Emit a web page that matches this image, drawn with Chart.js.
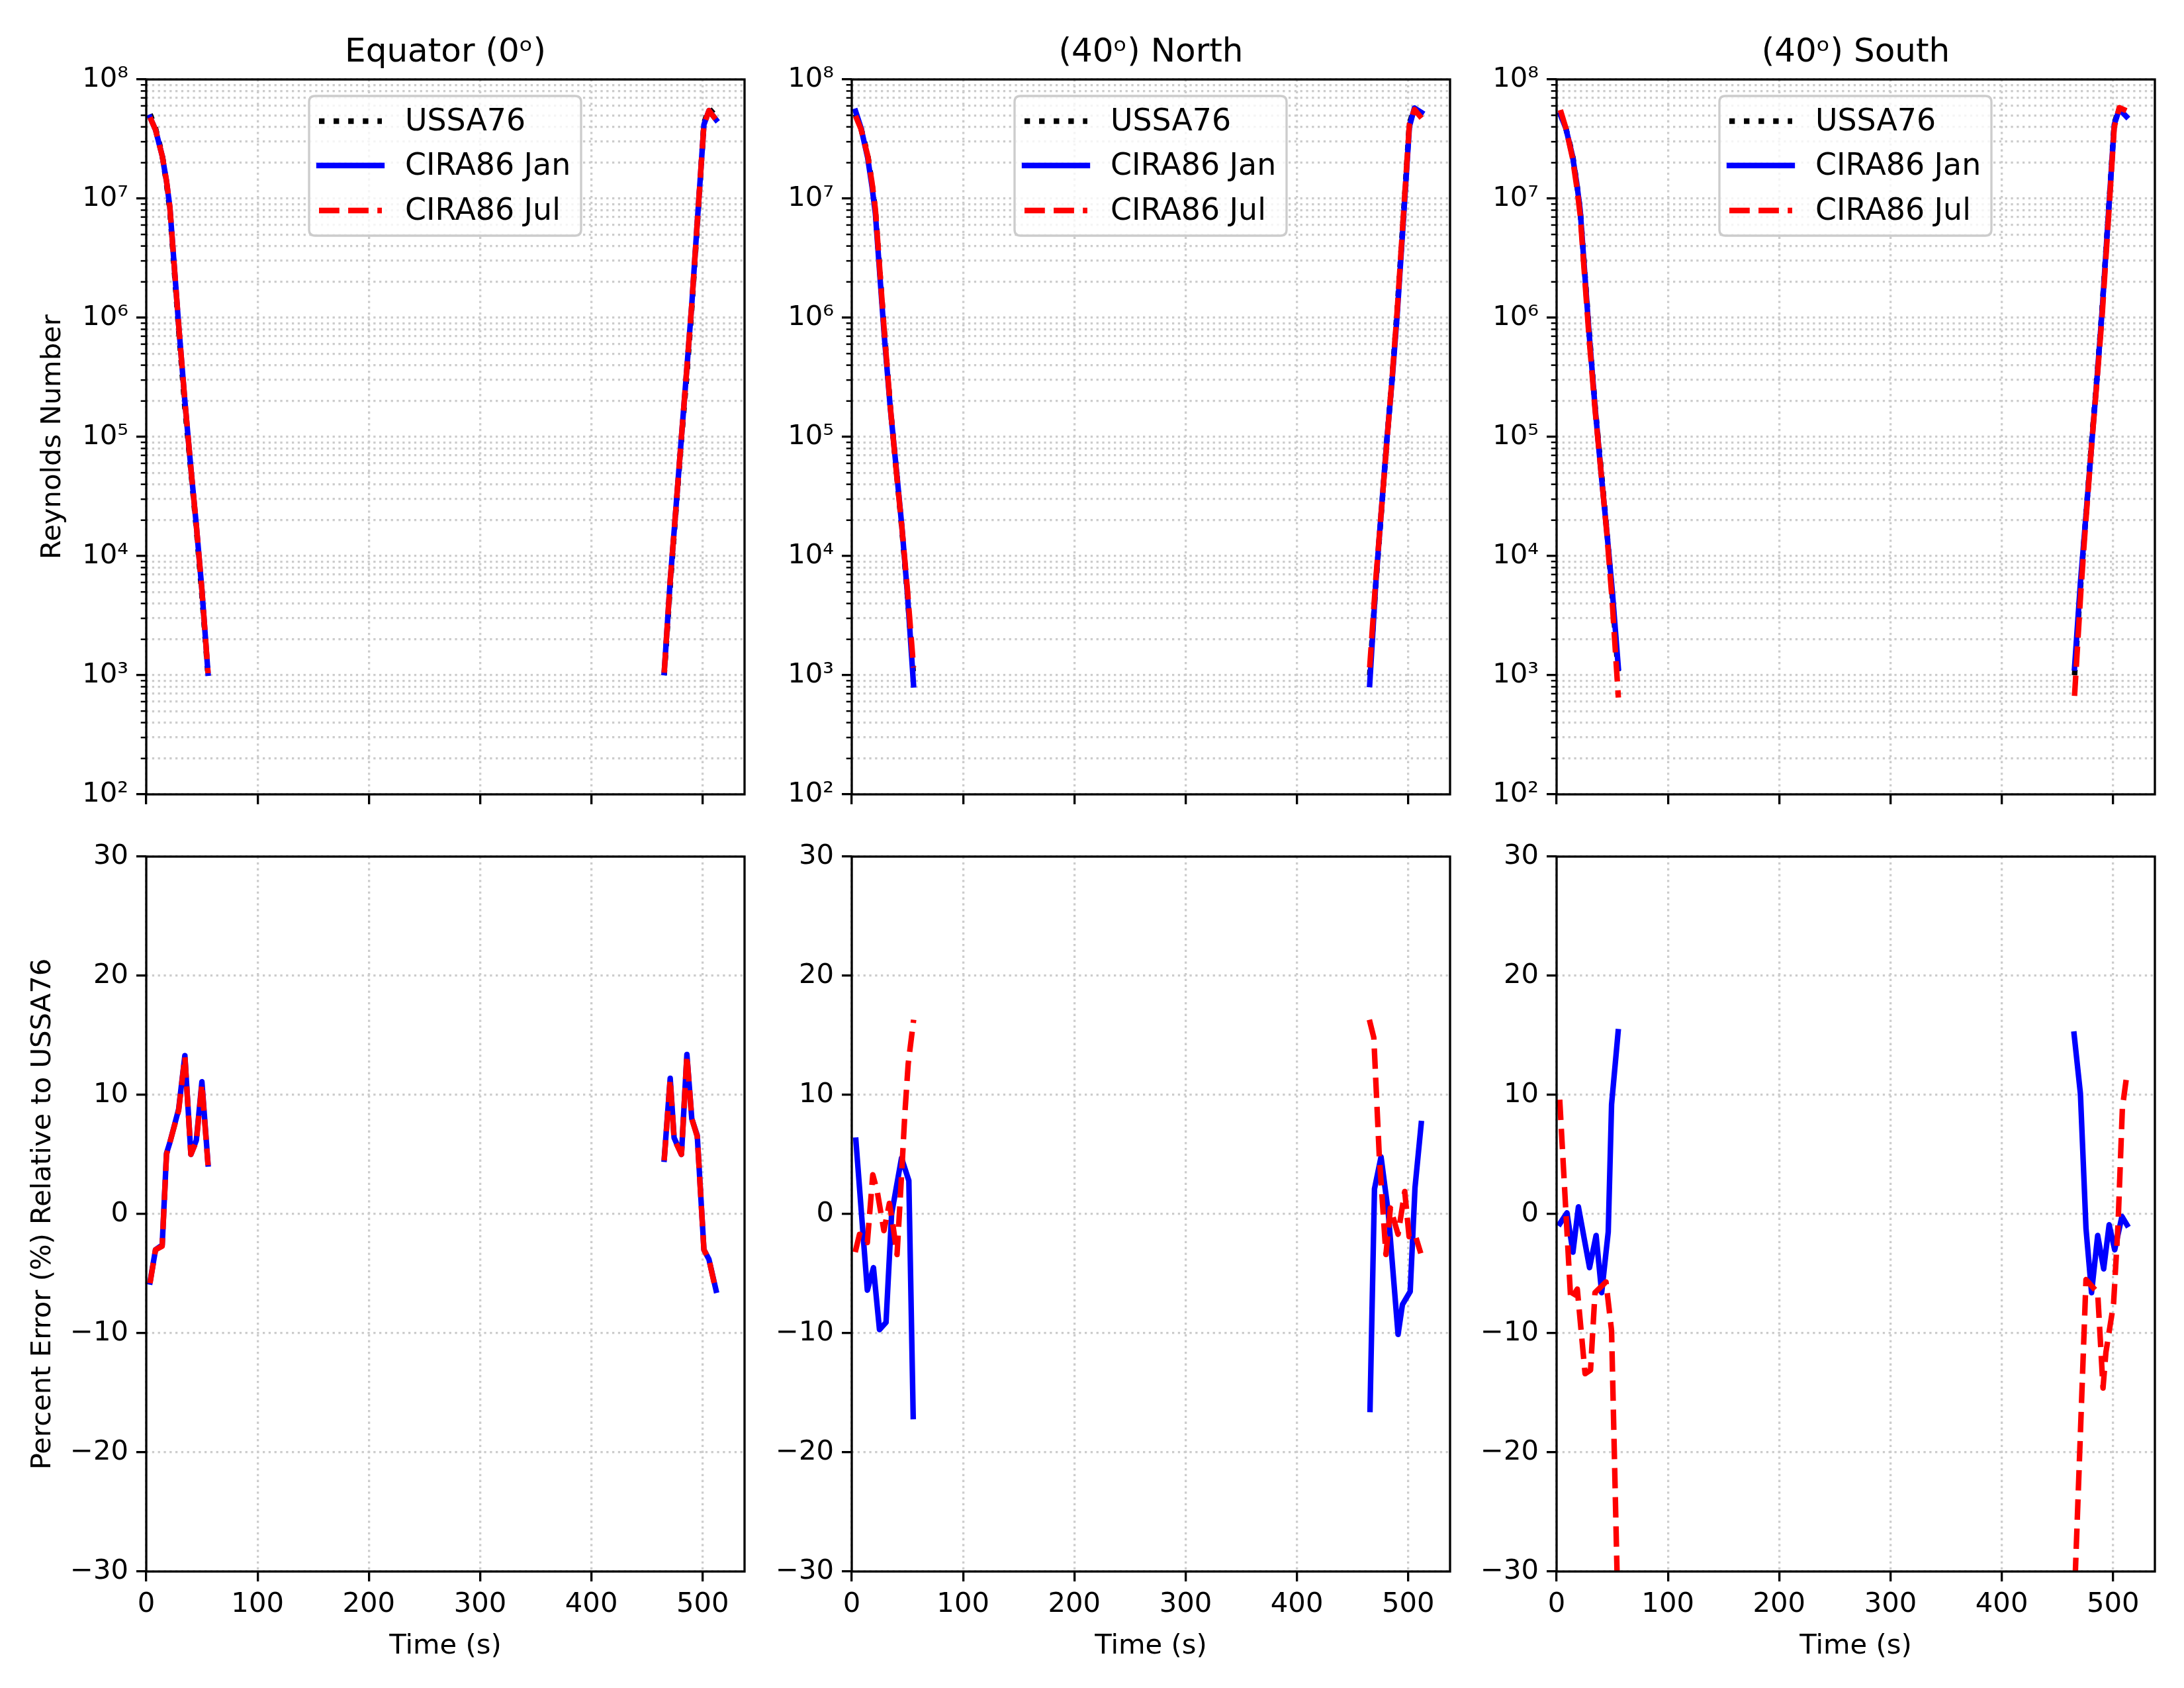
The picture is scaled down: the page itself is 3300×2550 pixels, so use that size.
<!DOCTYPE html>
<html><head><meta charset="utf-8">
<script src="https://cdn.jsdelivr.net/npm/chart.js@4.4.1/dist/chart.umd.min.js"></script>
<style>
html,body{margin:0;padding:0;background:#fff;}
body{width:3300px;height:2550px;position:relative;overflow:hidden;}
canvas{position:absolute;}
</style></head><body>
<script>
// ---------------- DATA ----------------
const panelTitles = ['Equator (0\u1D52)', '(40\u1D52) North', '(40\u1D52) South'];
const seriesNames = ['USSA76', 'CIRA86 Jan', 'CIRA86 Jul'];
const timeTicks = [0, 100, 200, 300, 400, 500];
const errTicks = [-30, -20, -10, 0, 10, 20, 30];
const reDecades = [1e2, 1e3, 1e4, 1e5, 1e6, 1e7, 1e8];
const reDecadeLabels = ['10\u00B2', '10\u00B3', '10\u2074', '10\u2075', '10\u2076', '10\u2077', '10\u2078'];

// Reynolds number (top row), time in s; null = gap between ascent and entry
const reTime = [3.4, 8.3, 14.3, 18.2, 21.2, 29.1, 34.7, 40.1, 45, 50, 55.5, null,
                465.4, 470.8, 474.3, 480.9, 485.8, 490.2, 495.1, 501.1, 505.6, 512];
const ussa76Re = [5.1e7, 3.9e7, 2.35e7, 1.33e7, 8.0e6, 8.0e5, 1.76e5, 5.2e4, 1.7e4, 4.7e3, 1.0e3, null,
                  1.0e3, 5.6e3, 1.5e4, 9.5e4, 3.35e5, 1.2e6, 5.9e6, 4.3e7, 5.7e7, 4.9e7];
const eqJanRe = [4.81e7, 3.78e7, 2.29e7, 1.40e7, 8.5e6, 8.7e5, 1.99e5, 5.46e4, 1.81e4, 5.2e3, 1.04e3, null,
                 1.05e3, 6.2e3, 1.6e4, 9.98e4, 3.8e5, 1.3e6, 6.3e6, 4.17e7, 5.48e7, 4.59e7];
const eqJulRe = [4.80e7, 3.78e7, 2.29e7, 1.40e7, 8.48e6, 8.7e5, 1.99e5, 5.46e4, 1.80e4, 5.2e3, 1.04e3, null,
                 1.05e3, 6.2e3, 1.6e4, 9.97e4, 3.8e5, 1.3e6, 6.28e6, 4.17e7, 5.48e7, 4.59e7];
const northJanRe = [5.42e7, 3.92e7, 2.2e7, 1.26e7, 7.5e6, 7.26e5, 1.72e5, 5.32e4, 1.78e4, 4.85e3, 8.3e2, null,
                    8.36e2, 5.75e3, 1.56e4, 9.6e4, 3.21e5, 1.09e6, 5.47e6, 4.02e7, 5.76e7, 5.27e7];
const northJulRe = [4.94e7, 3.83e7, 2.3e7, 1.36e7, 8.2e6, 7.9e5, 1.77e5, 5.04e4, 1.76e4, 5.25e3, 1.16e3, null,
                    1.16e3, 6.24e3, 1.57e4, 9.26e4, 3.35e5, 1.18e6, 5.95e6, 4.22e7, 5.6e7, 4.74e7];
const southJanRe = [5.07e7, 3.9e7, 2.28e7, 1.33e7, 7.98e6, 7.66e5, 1.72e5, 4.87e4, 1.65e4, 5.16e3, 1.15e3, null,
                    1.15e3, 6.16e3, 1.53e4, 8.88e4, 3.28e5, 1.15e6, 5.78e6, 4.18e7, 5.63e7, 4.88e7];
const southJulRe = [5.54e7, 3.91e7, 2.19e7, 1.24e7, 7.26e6, 6.94e5, 1.64e5, 4.88e4, 1.6e4, 4.12e3, 6.5e2, null,
                    6.7e2, 4.59e3, 1.37e4, 8.92e4, 3.13e5, 1.04e6, 5.28e6, 3.99e7, 5.8e7, 5.46e7];

// Percent error relative to USSA76 (bottom row)
const eqErrTime = [3.4, 8.3, 14.3, 18.2, 21.2, 29.1, 34.7, 40.1, 45, 50, 55.5, null,
                   465.4, 470.8, 474.3, 480.9, 485.8, 490.2, 495.1, 501.1, 505.6, 512];
const eqJanErr = [-5.7, -3.0, -2.6, 5.1, 6.0, 8.8, 13.3, 5.0, 6.2, 11.1, 4.2, null,
                  4.6, 11.4, 6.4, 5.0, 13.4, 8.0, 6.6, -3.0, -3.8, -6.4];
const eqJulErr = [-5.8, -3.0, -2.7, 5.0, 6.0, 8.7, 13.2, 5.0, 6.1, 10.9, 4.1, null,
                  4.5, 11.3, 6.3, 5.0, 13.3, 8.0, 6.5, -3.0, -3.8, -6.5];

const northJanTime = [3.7, 14.0, 19.5, 24.9, 30.8, 35.8, 44.7, 51.3, 55.2, null,
                      465.7, 469.7, 475.6, 482.0, 490.9, 494.8, 501.8, 506.1, 511.7];
const northJanErr = [6.2, -6.4, -4.5, -9.7, -9.1, 0.0, 4.7, 2.8, -17.0, null,
                     -16.4, 2.1, 4.8, 0.2, -10.1, -7.6, -6.5, 2.2, 7.6];
const northJulTime = [3.1, 7.0, 14.0, 18.9, 22.9, 28.9, 33.8, 36.8, 40.7, 44.7, 47.7, 50.7, 55.6, null,
                      465.1, 469.1, 474.0, 480.0, 484.0, 490.9, 496.9, 500.8, 506.1, 511.3];
const northJulErr = [-3.2, -1.7, -2.4, 3.3, 1.9, -1.4, 0.9, -0.8, -3.4, 3.2, 8.4, 12.6, 16.3, null,
                     16.3, 14.8, 4.9, -3.4, 0.5, -1.7, 1.9, -1.9, -1.7, -3.3];

const southJanTime = [3.0, 9.3, 14.7, 19.6, 29.6, 35.5, 40.5, 46.4, 49.4, 55.3, null,
                      465.0, 470.7, 475.7, 480.7, 486.2, 491.6, 496.5, 501.5, 508.0, 512.5];
const southJanErr = [-0.8, 0.1, -3.2, 0.6, -4.5, -1.8, -6.6, -1.5, 9.2, 15.3, null,
                     15.1, 10.1, -1.2, -6.6, -1.8, -4.6, -0.9, -3.0, -0.2, -0.9];
const southJulTime = [2.8, 12.7, 18.6, 25.6, 30.5, 34.5, 44.4, 49.4, 55.5, null,
                      465.0, 475.7, 486.2, 491.0, 493.6, 500.5, 504.5, 508.4, 512.4];
const southJulErr = [9.6, -7.2, -6.3, -13.4, -13.1, -6.6, -5.7, -9.8, -35.0, null,
                     -33.0, -5.5, -6.6, -14.6, -11.6, -7.5, -0.9, 8.9, 11.7];

// ---------------- LAYOUT / STYLE ----------------
const FONT = "'DejaVu Sans'";
Chart.defaults.font.family = FONT;
Chart.defaults.color = '#000';
const colLeft = [221, 1287, 2352];
const rowTop = [120, 1294];
const plotW = 904, plotH = 1080;
const padL = 221, padT = 120, padR = 24, padB = 176;
const LW = 8.33;
const GRID = '#cccccc';

function pts(times, vals) {
  return times.map((t, i) => t === null
    ? {x: (times[i - 1] + times[i + 1]) / 2, y: null}
    : {x: t, y: vals[i]});
}
const styleUSSA = {borderColor: '#000000', borderDash: [8.33, 13.75], borderCapStyle: 'butt'};
const styleJan = {borderColor: '#0000ff', borderDash: [], borderCapStyle: 'square'};
const styleJul = {borderColor: '#ff0000', borderDash: [30.8, 13.3], borderCapStyle: 'butt'};
function ds(label, data, style, order) {
  return Object.assign({label, data, order, borderWidth: LW, pointRadius: 0, pointHoverRadius: 0,
    fill: false, tension: 0, borderJoinStyle: 'round', clip: 0, spanGaps: false}, style);
}

const isDecade = v => reDecades.some(d => Math.abs(v / d - 1) < 1e-9);
const reAllTicks = [];
reDecades.forEach((d, i) => {
  if (i < reDecades.length - 1) { for (let m = 1; m <= 9; m++) reAllTicks.push(m * d); }
  else reAllTicks.push(d);
});

const panelPlugin = {
  id: 'panelDeco',
  afterDatasetsDraw(chart, args, opts) {
    const {ctx, chartArea: a} = chart;
    ctx.save();
    const ys = chart.scales.y;
    if (ys.type === 'logarithmic') {
      ctx.strokeStyle = '#000'; ctx.lineWidth = 2.5; ctx.setLineDash([]);
      ys.ticks.forEach(t => {
        if (isDecade(t.value)) return;
        const p = ys.getPixelForValue(t.value);
        ctx.beginPath(); ctx.moveTo(a.left, p); ctx.lineTo(a.left - 8.3, p); ctx.stroke();
      });
    }
    ctx.lineWidth = 3.33; ctx.strokeStyle = '#000'; ctx.setLineDash([]);
    ctx.strokeRect(a.left, a.top, a.right - a.left, a.bottom - a.top);
    if (opts.legend) {
      const x = a.left + 246, y = a.top + 25, w = 411, h = 211, r = 9;
      ctx.beginPath();
      ctx.moveTo(x + r, y); ctx.lineTo(x + w - r, y); ctx.quadraticCurveTo(x + w, y, x + w, y + r);
      ctx.lineTo(x + w, y + h - r); ctx.quadraticCurveTo(x + w, y + h, x + w - r, y + h);
      ctx.lineTo(x + r, y + h); ctx.quadraticCurveTo(x, y + h, x, y + h - r);
      ctx.lineTo(x, y + r); ctx.quadraticCurveTo(x, y, x + r, y); ctx.closePath();
      ctx.fillStyle = 'rgba(255,255,255,0.8)'; ctx.fill();
      ctx.strokeStyle = '#cccccc'; ctx.lineWidth = 3.33; ctx.stroke();
      const rowsY = [38, 105, 173];
      chart.data.datasets.forEach((d, i) => {
        const yy = y + rowsY[i];
        ctx.beginPath();
        ctx.strokeStyle = d.borderColor; ctx.lineWidth = LW; ctx.lineCap = d.borderCapStyle;
        ctx.setLineDash(d.borderDash || []);
        ctx.moveTo(x + 15, yy); ctx.lineTo(x + 110, yy); ctx.stroke();
        ctx.setLineDash([]);
        ctx.fillStyle = '#000'; ctx.font = '45.8px ' + FONT;
        ctx.textBaseline = 'middle'; ctx.textAlign = 'left';
        ctx.fillText(d.label, x + 145, yy + 2);
      });
    }
    ctx.restore();
  }
};

function makePanel(row, col) {
  const cv = document.createElement('canvas');
  const W = padL + plotW + padR, H = padT + plotH + padB;
  cv.width = W; cv.height = H;
  cv.style.left = (colLeft[col] - padL) + 'px';
  cv.style.top = (rowTop[row] - padT) + 'px';
  cv.style.width = W + 'px'; cv.style.height = H + 'px';
  document.body.appendChild(cv);

  let datasets;
  if (row === 0) {
    const jan = [eqJanRe, northJanRe, southJanRe][col];
    const jul = [eqJulRe, northJulRe, southJulRe][col];
    datasets = [
      ds(seriesNames[0], pts(reTime, ussa76Re), styleUSSA, 3),
      ds(seriesNames[1], pts(reTime, jan), styleJan, 2),
      ds(seriesNames[2], pts(reTime, jul), styleJul, 1)
    ];
  } else {
    const janT = [eqErrTime, northJanTime, southJanTime][col];
    const janV = [eqJanErr, northJanErr, southJanErr][col];
    const julT = [eqErrTime, northJulTime, southJulTime][col];
    const julV = [eqJulErr, northJulErr, southJulErr][col];
    datasets = [
      ds(seriesNames[1], pts(janT, janV), styleJan, 2),
      ds(seriesNames[2], pts(julT, julV), styleJul, 1)
    ];
  }

  const tickFont = {family: FONT, size: 41.7};
  const xScale = {
    type: 'linear', min: 0, max: 537.6,
    afterFit: s => { s.height = padB; },
    afterBuildTicks: s => { s.ticks = timeTicks.map(v => ({value: v})); },
    ticks: {display: row === 1, font: tickFont, color: '#000', padding: 10, maxRotation: 0, autoSkip: false},
    grid: {color: GRID, lineWidth: 3.3, tickLength: 15, tickColor: '#000', tickWidth: 3.33},
    border: {display: false, dash: [3.3, 5.5]},
    title: row === 1 ? {display: true, text: 'Time (s)', font: tickFont, color: '#000', padding: {top: 0, bottom: 38}} : {display: false}
  };
  let yScale;
  if (row === 0) {
    yScale = {
      type: 'logarithmic', min: 1e2, max: 1e8,
      afterFit: s => { s.width = padL; },
      afterBuildTicks: s => { s.ticks = reAllTicks.map(v => ({value: v, major: isDecade(v)})); },
      ticks: {font: tickFont, color: '#000', padding: 12, autoSkip: false,
        callback: v => { const k = reDecades.findIndex(d => Math.abs(v / d - 1) < 1e-9); return k >= 0 ? reDecadeLabels[k] : ''; }},
      grid: {color: GRID, lineWidth: 3.3, tickLength: 15, tickColor: '#000',
        tickWidth: c => (c.tick && isDecade(c.tick.value)) ? 3.33 : 0},
      border: {display: false, dash: [3.3, 5.5]},
      title: col === 0 ? {display: true, text: 'Reynolds Number', font: tickFont, color: '#000', padding: {top: 55, bottom: 0}} : {display: false}
    };
  } else {
    yScale = {
      type: 'linear', min: -30, max: 30,
      afterFit: s => { s.width = padL; },
      afterBuildTicks: s => { s.ticks = errTicks.map(v => ({value: v})); },
      ticks: {font: tickFont, color: '#000', padding: 12, autoSkip: false,
        callback: v => (v < 0 ? '\u2212' + Math.abs(v) : String(v))},
      grid: {color: GRID, lineWidth: 3.3, tickLength: 15, tickColor: '#000', tickWidth: 3.33},
      border: {display: false, dash: [3.3, 5.5]},
      title: col === 0 ? {display: true, text: 'Percent Error (%) Relative to USSA76', font: tickFont, color: '#000', padding: {top: 40, bottom: 0}} : {display: false}
    };
  }

  new Chart(cv, {
    type: 'line',
    data: {datasets},
    options: {
      responsive: false, animation: false, devicePixelRatio: 1,
      layout: {padding: {top: row === 0 ? 0 : padT, right: padR, left: 0, bottom: 0}},
      plugins: {
        legend: {display: false}, tooltip: {enabled: false},
        title: row === 0 ? {display: true, text: panelTitles[col], fullSize: false,
          font: {family: FONT, size: 50, weight: 'normal'}, color: '#000', padding: {top: 50, bottom: 10}} : {display: false},
        panelDeco: {legend: row === 0}
      },
      scales: {x: xScale, y: yScale}
    },
    plugins: [panelPlugin]
  });
}
for (let r = 0; r < 2; r++) for (let c = 0; c < 3; c++) makePanel(r, c);
</script>
</body></html>
